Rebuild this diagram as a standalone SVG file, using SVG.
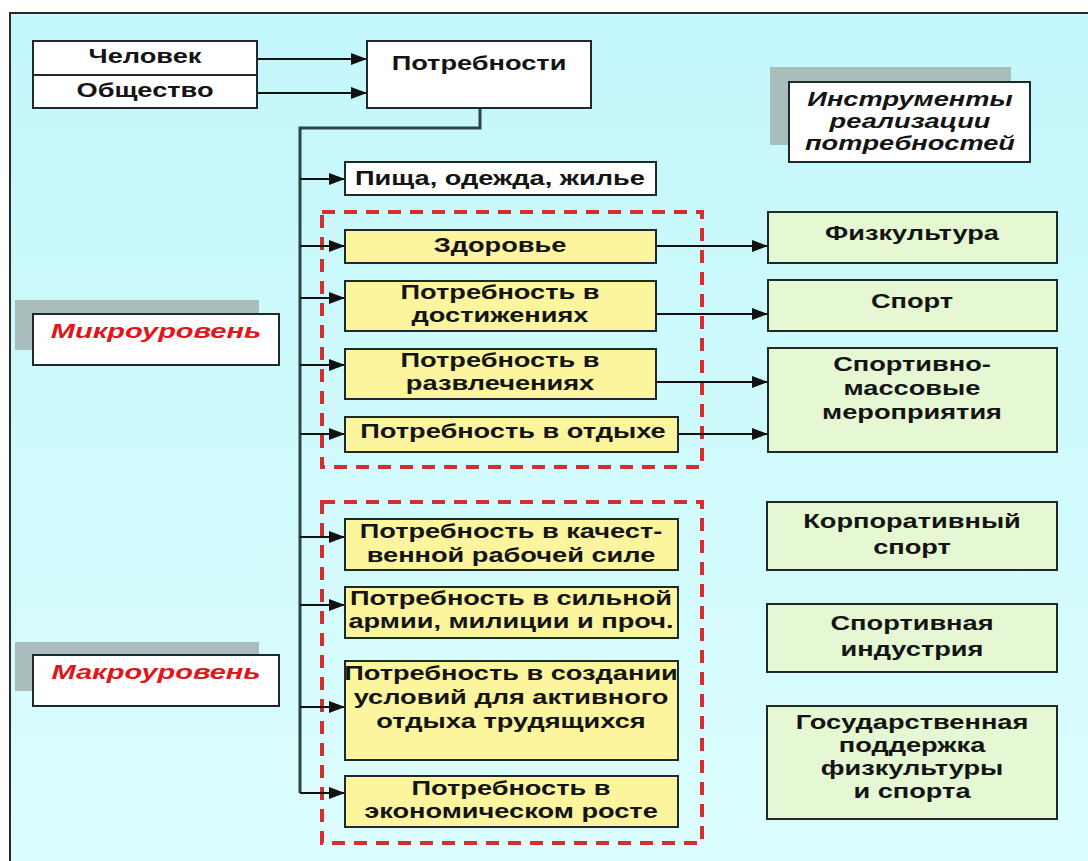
<svg xmlns="http://www.w3.org/2000/svg" width="1088" height="861" viewBox="0 0 1088 861">
  <defs>
    <linearGradient id="bg" x1="0" y1="0" x2="0" y2="1">
      <stop offset="0" stop-color="#c3f7fb"/>
      <stop offset="1" stop-color="#dcfdfd"/>
    </linearGradient>
    <marker id="arrow" markerUnits="userSpaceOnUse" markerWidth="16" markerHeight="12" refX="16" refY="6" orient="auto">
      <path d="M0,0 L16,6 L0,12 Z" fill="#111"/>
    </marker>
    <style>
      .box { stroke: #1e2a2a; stroke-width: 2; }
      .white { fill: #ffffff; }
      .yellow { fill: #fdf59e; }
      .green { fill: #e5f8d3; }
      .shadow { fill: #a9bdbd; }
      .group { fill: none; stroke: #d42e2e; stroke-width: 4; stroke-dasharray: 13 9; }
      .t { font-family: "Liberation Sans", Arial, sans-serif; font-weight: bold; font-size: 20px; fill: #141414; text-anchor: middle; }
      .it { font-style: italic; }
      .red { fill: #e2151b; font-size: 21px; }
      .link { fill: none; stroke: #111; stroke-width: 2; marker-end: url(#arrow); }
      .trunk { fill: none; stroke: #2c4545; stroke-width: 3; }
    </style>
  </defs>

  <!-- page and frame -->
  <rect x="0" y="0" width="1088" height="861" fill="#ffffff"/>
  <rect x="10" y="13" width="1078" height="848" fill="url(#bg)"/>
  <path d="M10,861 V13 H1088" fill="none" stroke="#2a2a2a" stroke-width="2"/>

  <!-- dashed level groups -->
  <rect class="group" x="322" y="212" width="380" height="255"/>
  <rect class="group" x="322" y="502" width="380" height="341"/>

  <!-- connectors -->
  <g id="connectors">
    <line class="link" x1="258" y1="59" x2="367" y2="59"/>
    <line class="link" x1="258" y1="93" x2="367" y2="93"/>
    <path class="trunk" d="M480,108 V128 H300 V793"/>
    <line class="link" x1="300" y1="179" x2="345" y2="179"/>
    <line class="link" x1="300" y1="246" x2="345" y2="246"/>
    <line class="link" x1="300" y1="298" x2="345" y2="298"/>
    <line class="link" x1="300" y1="365" x2="345" y2="365"/>
    <line class="link" x1="300" y1="434" x2="345" y2="434"/>
    <line class="link" x1="300" y1="537" x2="345" y2="537"/>
    <line class="link" x1="300" y1="605" x2="345" y2="605"/>
    <line class="link" x1="300" y1="707" x2="345" y2="707"/>
    <line class="link" x1="300" y1="793" x2="345" y2="793"/>
    <line class="link" x1="656" y1="246" x2="768" y2="246"/>
    <line class="link" x1="656" y1="314" x2="768" y2="314"/>
    <line class="link" x1="656" y1="382" x2="768" y2="382"/>
    <line class="link" x1="678" y1="434" x2="768" y2="434"/>
  </g>

  <!-- sources -->
  <g id="person-society">
    <rect class="box white" x="33" y="41" width="224" height="67"/>
    <line x1="33" y1="75" x2="257" y2="75" stroke="#1e2a2a" stroke-width="2"/>
    <text class="t" transform="translate(145 63) scale(1.36 1)">Человек</text>
    <text class="t" transform="translate(145 97) scale(1.36 1)">Общество</text>
  </g>

  <g id="needs">
    <rect class="box white" x="367" y="41" width="224" height="67"/>
    <text class="t" transform="translate(479 70) scale(1.36 1)">Потребности</text>
  </g>

  <g id="basic-needs">
    <rect class="box white" x="345" y="162" width="311" height="33"/>
    <text class="t" transform="translate(500 185) scale(1.36 1)">Пища, одежда, жилье</text>
  </g>

  <g id="tools-title">
    <rect class="shadow" x="770" y="67" width="241" height="78"/>
    <rect class="box white" x="789" y="82" width="241" height="80"/>
    <text class="t it" transform="translate(910 106) scale(1.36 1)">Инструменты</text>
    <text class="t it" transform="translate(910 128) scale(1.36 1)">реализации</text>
    <text class="t it" transform="translate(910 150) scale(1.36 1)">потребностей</text>
  </g>

  <g id="micro-level">
    <rect class="shadow" x="15" y="300" width="244" height="50"/>
    <rect class="box white" x="33" y="314" width="246" height="51"/>
    <text class="t it red" transform="translate(156 338) scale(1.38 1)">Микроуровень</text>
  </g>

  <g id="macro-level">
    <rect class="shadow" x="15" y="642" width="244" height="49"/>
    <rect class="box white" x="33" y="655" width="246" height="51"/>
    <text class="t it red" transform="translate(156 679) scale(1.38 1)">Макроуровень</text>
  </g>

  <!-- micro-level needs -->
  <g id="health">
    <rect class="box yellow" x="345" y="230" width="311" height="33"/>
    <text class="t" transform="translate(500 252) scale(1.36 1)">Здоровье</text>
  </g>
  <g id="achievement">
    <rect class="box yellow" x="345" y="281" width="311" height="50"/>
    <text class="t" transform="translate(500 299) scale(1.36 1)">Потребность в</text>
    <text class="t" transform="translate(500 322) scale(1.36 1)">достижениях</text>
  </g>
  <g id="entertainment">
    <rect class="box yellow" x="345" y="349" width="311" height="50"/>
    <text class="t" transform="translate(500 367) scale(1.36 1)">Потребность в</text>
    <text class="t" transform="translate(500 390) scale(1.36 1)">развлечениях</text>
  </g>
  <g id="rest">
    <rect class="box yellow" x="345" y="417" width="333" height="35"/>
    <text class="t" transform="translate(513 438) scale(1.36 1)">Потребность в отдыхе</text>
  </g>

  <!-- macro-level needs -->
  <g id="workforce">
    <rect class="box yellow" x="345" y="519" width="333" height="51"/>
    <text class="t" transform="translate(511 538) scale(1.36 1)">Потребность в качест-</text>
    <text class="t" transform="translate(511 562) scale(1.36 1)">венной рабочей силе</text>
  </g>
  <g id="army">
    <rect class="box yellow" x="345" y="587" width="333" height="51"/>
    <text class="t" transform="translate(511 605) scale(1.36 1)">Потребность в сильной</text>
    <text class="t" transform="translate(511 628) scale(1.36 1)">армии, милиции и проч.</text>
  </g>
  <g id="active-rest">
    <rect class="box yellow" x="345" y="661" width="333" height="99"/>
    <text class="t" transform="translate(511 680) scale(1.36 1)">Потребность в создании</text>
    <text class="t" transform="translate(511 704) scale(1.36 1)">условий для активного</text>
    <text class="t" transform="translate(511 728) scale(1.36 1)">отдыха трудящихся</text>
  </g>
  <g id="growth">
    <rect class="box yellow" x="345" y="776" width="333" height="51"/>
    <text class="t" transform="translate(511 795) scale(1.36 1)">Потребность в</text>
    <text class="t" transform="translate(511 818) scale(1.36 1)">экономическом росте</text>
  </g>

  <!-- instruments -->
  <g id="phys-culture">
    <rect class="box green" x="768" y="212" width="289" height="51"/>
    <text class="t" transform="translate(912 240) scale(1.36 1)">Физкультура</text>
  </g>
  <g id="sport">
    <rect class="box green" x="768" y="280" width="289" height="51"/>
    <text class="t" transform="translate(912 308) scale(1.36 1)">Спорт</text>
  </g>
  <g id="mass-events">
    <rect class="box green" x="768" y="348" width="289" height="104"/>
    <text class="t" transform="translate(912 371) scale(1.36 1)">Спортивно-</text>
    <text class="t" transform="translate(912 395) scale(1.36 1)">массовые</text>
    <text class="t" transform="translate(912 419) scale(1.36 1)">мероприятия</text>
  </g>
  <g id="corporate-sport">
    <rect class="box green" x="767" y="502" width="290" height="68"/>
    <text class="t" transform="translate(912 528) scale(1.36 1)">Корпоративный</text>
    <text class="t" transform="translate(912 554) scale(1.36 1)">спорт</text>
  </g>
  <g id="sport-industry">
    <rect class="box green" x="767" y="604" width="290" height="68"/>
    <text class="t" transform="translate(912 630) scale(1.36 1)">Спортивная</text>
    <text class="t" transform="translate(912 656) scale(1.36 1)">индустрия</text>
  </g>
  <g id="state-support">
    <rect class="box green" x="767" y="706" width="290" height="113"/>
    <text class="t" transform="translate(912 729) scale(1.36 1)">Государственная</text>
    <text class="t" transform="translate(912 752) scale(1.36 1)">поддержка</text>
    <text class="t" transform="translate(912 775) scale(1.36 1)">физкультуры</text>
    <text class="t" transform="translate(912 798) scale(1.36 1)">и спорта</text>
  </g>
</svg>
